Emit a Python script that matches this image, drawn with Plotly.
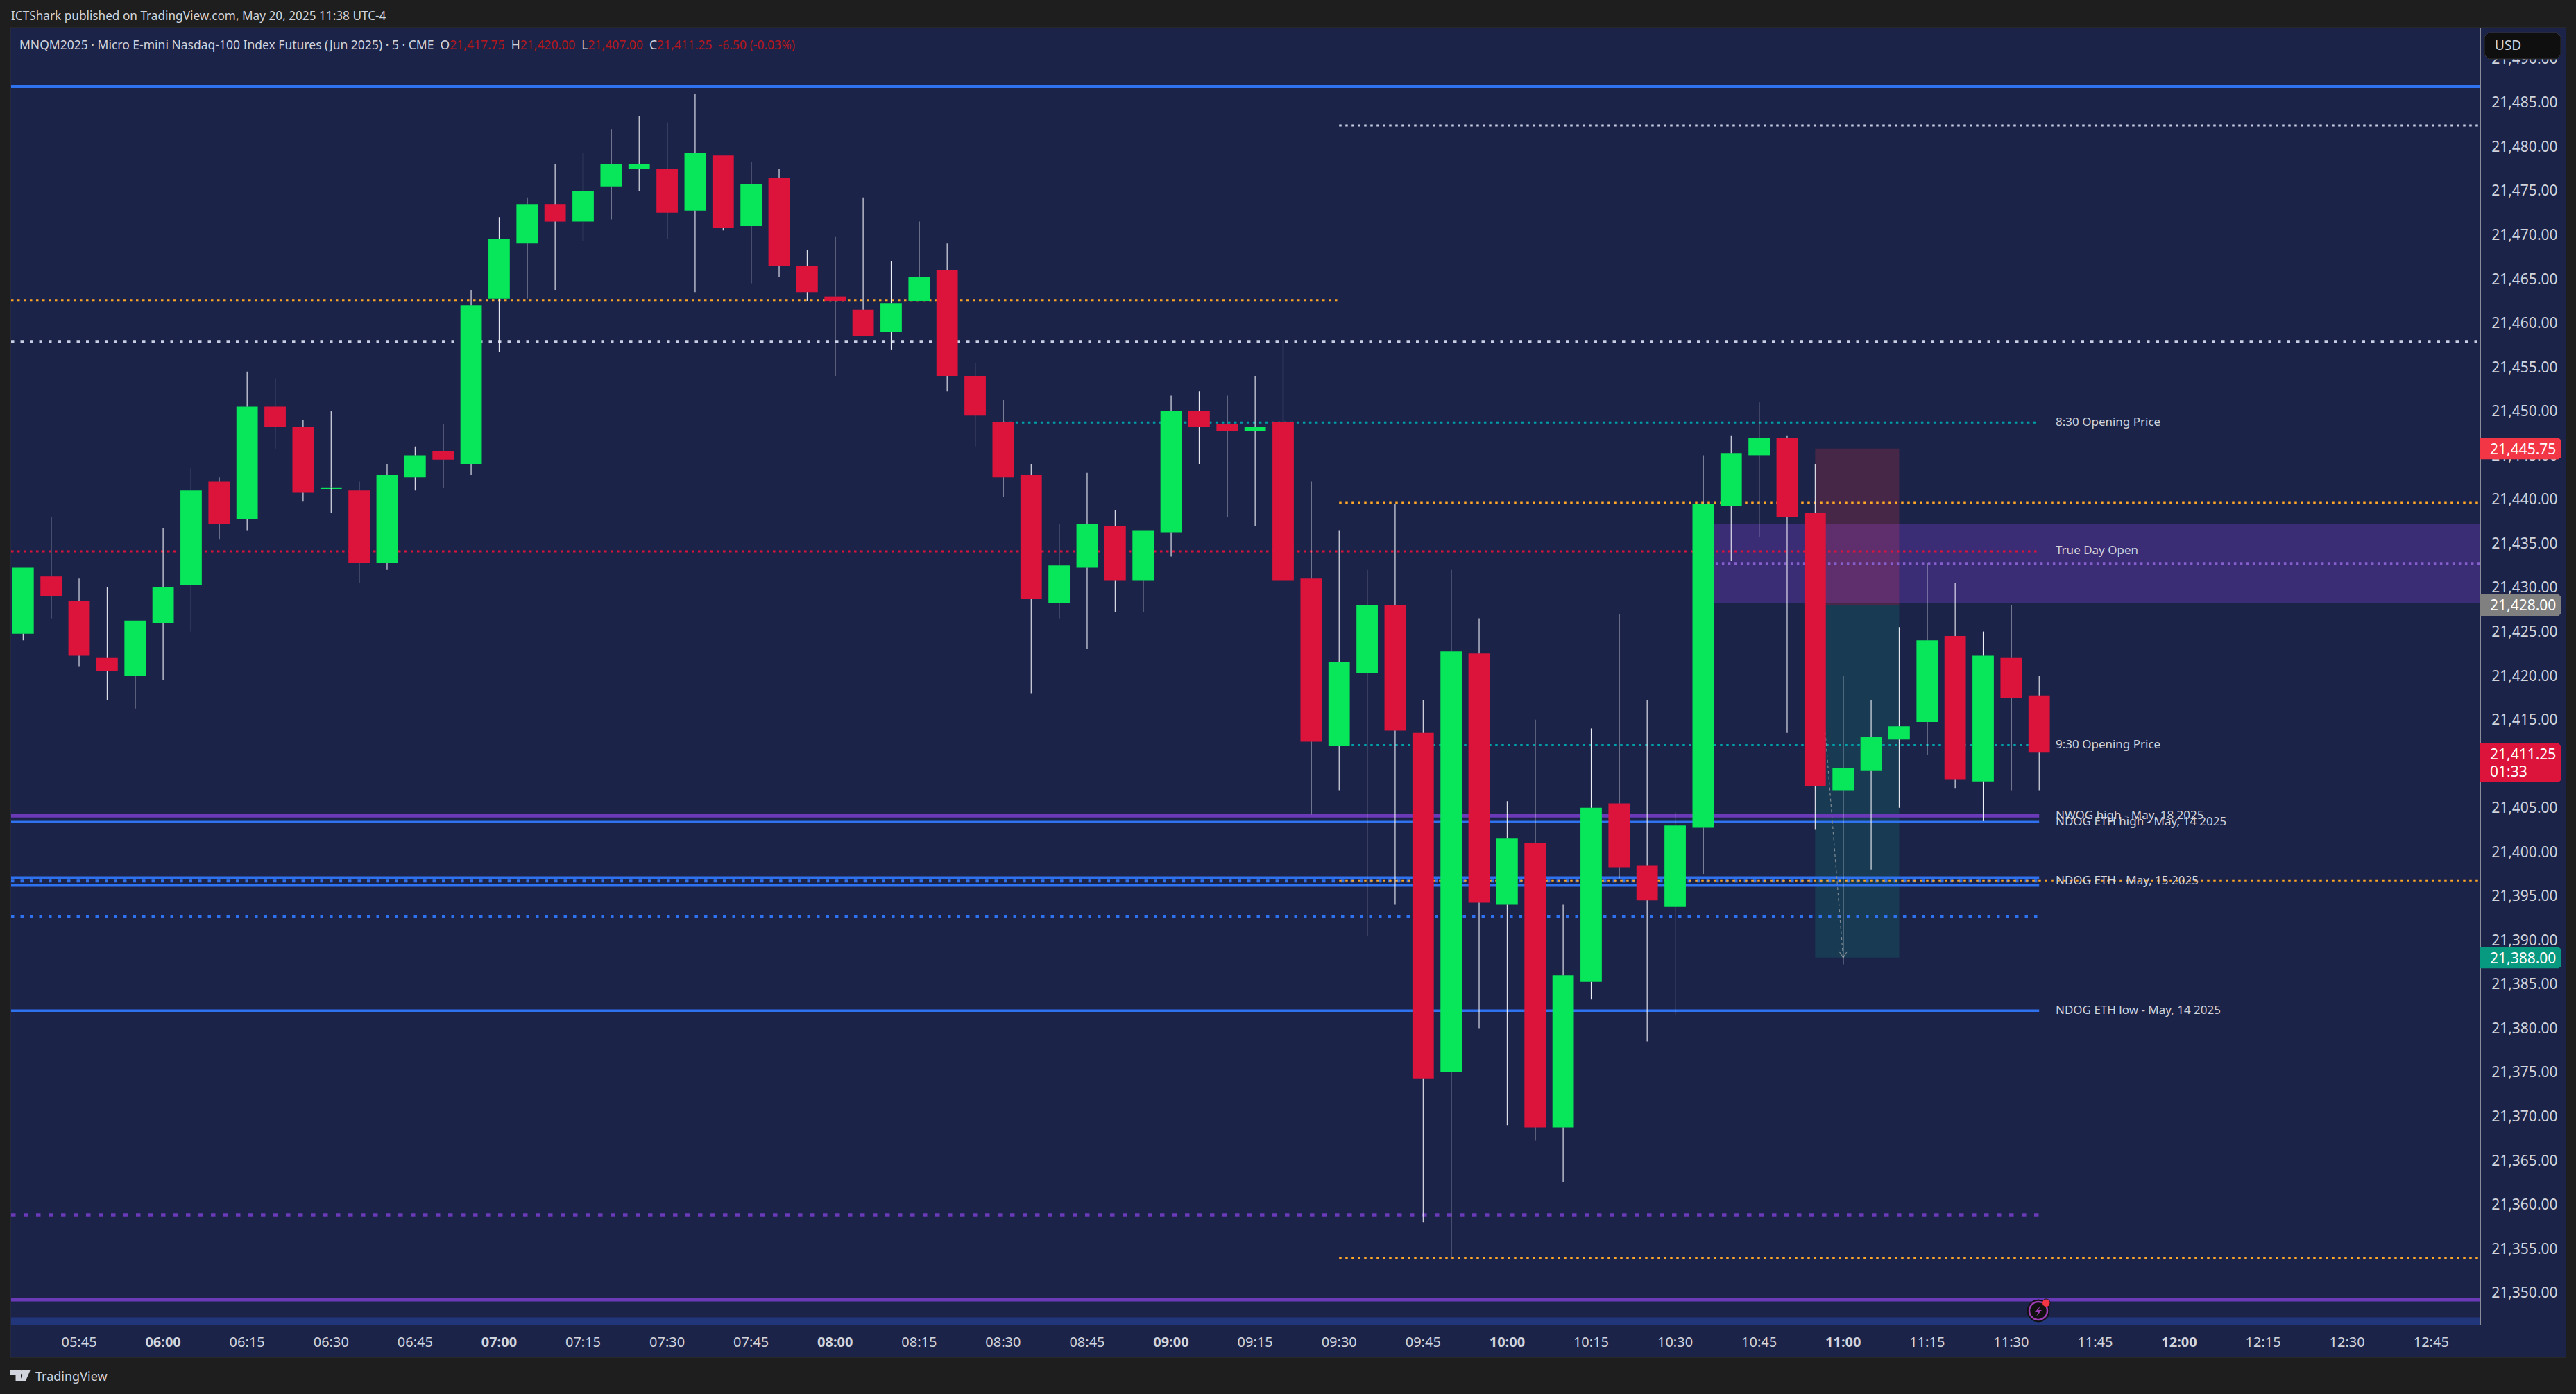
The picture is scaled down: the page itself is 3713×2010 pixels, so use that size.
import pandas as pd
import plotly.graph_objects as go

# ---------- data ----------
START = "2025-05-20 05:35"
OPEN = [21424.75,21431.25,21428.5,21422,21420,21426,21430.25,21442,21437.75,21450.5,21448.25,21441.25,21441,21432.75,21442.5,21445.5,21444,
        21462.75,21469,21473.5,21471.5,21475.5,21477.5,21477.5,21472.75,21479,21471,21476.5,21466.5,21463,21461.5,21459,21462.5,21466,21454,
        21448.75,21442.75,21428.25,21432.25,21437,21430.75,21436.25,21450,21448.5,21447.75,21448.75,21431,21412,21420.25,21428,21413.5,21375,
        21422.5,21394,21401,21368.75,21385.25,21405.5,21398.5,21393.75,21402.75,21439.25,21445,21447,21438.5,21407,21409.25,21412.75,21414.75,
        21424.5,21408,21422,21417.75]
HIGH = [21432.25,21438,21431,21430,21426.25,21436.75,21443.5,21442.5,21454.5,21453.75,21449,21450,21442,21444,21446,21448.5,21463.75,
        21472,21474.25,21478,21479.25,21482,21483.5,21482.75,21486,21479,21478.25,21477.5,21468.25,21469.75,21474.25,21467,21471.5,21469,21455.5,
        21451.25,21444,21437.25,21443,21438.75,21436.5,21451.75,21452.25,21451.75,21454,21458,21442,21436.5,21432,21439.5,21417.25,21432,
        21426.5,21405.75,21415,21394,21414,21427,21417.25,21404.5,21445,21447.25,21451,21447.25,21444,21420,21417.25,21425.5,21432.75,
        21430.5,21425,21428,21420]
LOW = [21424,21426.5,21421,21417.25,21416.25,21419.5,21425,21435.5,21436.5,21445.75,21439.75,21438.5,21430.5,21432,21441,21441.25,21442.75,
       21456.75,21462.75,21463.75,21469.25,21471.75,21475,21469.5,21463.5,21470.5,21464.5,21465.25,21462.5,21454,21458.5,21457,21462.5,21452.25,21446,
       21440.25,21418,21426.5,21423,21427.25,21427.25,21433.5,21444,21438,21437,21430.75,21404.25,21407,21390.5,21394,21358,21354,
       21380,21369,21367.25,21362.5,21383.25,21397,21378.5,21381.5,21397.5,21433,21435.75,21413.5,21402.5,21387.25,21398,21405,21411,
       21407.25,21403.5,21407,21407]
CLOSE = [21432.25,21429,21422.25,21420.5,21426.25,21430,21441,21437.25,21450.5,21448.25,21440.75,21441.35,21432.75,21442.75,21445,21444.5,21462,
         21469.5,21473.5,21471.5,21475,21478,21478,21472.5,21479.25,21470.75,21475.75,21466.5,21463.5,21462.5,21458.5,21462.25,21465.25,21454,21449.5,
         21442.5,21428.75,21432.5,21437.25,21430.75,21436.5,21450,21448.25,21447.75,21448.25,21430.75,21412.5,21421.5,21428,21413.75,21374.25,21422.75,
         21394.25,21401.5,21368.75,21386,21405,21398.25,21394.5,21403,21439.5,21445.25,21447,21438,21407.5,21409.5,21413,21414.25,21424,
         21408.25,21422.25,21417.5,21411.25]

PRICE_TICKS = [21350 + 5 * i for i in range(29)]
TIME_TICKS = ["05:45","06:00","06:15","06:30","06:45","07:00","07:15","07:30","07:45","08:00","08:15","08:30","08:45","09:00","09:15",
              "09:30","09:45","10:00","10:15","10:30","10:45","11:00","11:15","11:30","11:45","12:00","12:15","12:30","12:45"]

TOP_BLUE = 21486.8
WHITE_HIGH = 21482.4
ORANGE_HIGH = 21462.6
WHITE_MID = 21457.9
OPEN_830 = 21448.7
ORANGE_MID = 21439.6
TRUE_DAY_OPEN = 21434.1
PURPLE_DOT = 21432.7
OPEN_930 = 21412.1
NWOG_HIGH = 21404.1
NDOG_ETH_HIGH = 21403.4
NDOG_A = 21397.1
NDOG_MID = 21396.7
NDOG_B = 21396.2
BLUE_DOT = 21392.7
NDOG_ETH_LOW = 21382.0
PURPLE_LOW_DOT = 21358.8
ORANGE_LOW = 21353.9
NWOG_LOW = 21349.2
BAND = (21347.2, 21346.3)
ZONE = (21437.2, 21428.2)
STOP, ENTRY, TARGET = 21445.75, 21428.0, 21388.0

# ---------- layout constants (pixels) ----------
W, H = 3713, 2010
L, R, T, B = 16, 3575, 41, 1910
PANEL_R, PANEL_B = 3698, 1957
BG, PAPER = "#1c2348", "#1e1e1e"
TXT = "#d1d4dc"
GREEN, RED = "#08e65a", "#dc143c"
BLUE, PURPLE, ORANGE, TEAL, WHITE = "#2e72f0", "#6a3ab8", "#ffa726", "#00a0a8", "#c8cee4"
FONT = "Noto Sans"

# price scale: 21455 sits at y=529.3, 12.71 px a point; one bar is 40.36 px, first at x=33.3
PPP, BARPX, X0 = 12.71, 40.36, 33.3
y_top = 21455 + (529.3 - T) / PPP
y_bot = 21455 - (B - 529.3) / PPP
t0 = pd.Timestamp(START)
def tidx(i):
    return t0 + pd.Timedelta(seconds=300 * i)
x_left = tidx((L - X0) / BARPX)
x_right = tidx((R - X0) / BARPX)
times = [tidx(i) for i in range(len(OPEN))]
px = lambda x: (x - L) / (R - L)
py = lambda y: (B - y) / (B - T)
ypx = lambda p: 529.3 + (21455 - p) * PPP

fig = go.Figure()

# bodies
up = [c >= o for o, c in zip(OPEN, CLOSE)]
fig.add_trace(go.Bar(x=times, y=[abs(c - o) for o, c in zip(OPEN, CLOSE)], base=[min(o, c) for o, c in zip(OPEN, CLOSE)],
                     width=229000, marker=dict(color=[GREEN if u else RED for u in up], line=dict(width=0)), hoverinfo="skip"))
# wicks: above and below the body, so the body stays clean
wx, wy = [], []
for t, o, h, l, c in zip(times, OPEN, HIGH, LOW, CLOSE):
    if h > max(o, c):
        wx += [t, t, None]; wy += [max(o, c), h, None]
    if l < min(o, c):
        wx += [t, t, None]; wy += [min(o, c), l, None]
fig.add_trace(go.Scatter(x=wx, y=wy, mode="lines", line=dict(color="#eceef5", width=1.1), hoverinfo="skip"))

shapes = []
def level(p, a, b, color, width, dash="solid"):
    shapes.append(dict(type="line", xref="x", yref="y", x0=a, x1=b, y0=p, y1=p, layer="below", line=dict(color=color, width=width, dash=dash)))
def zone(a, b, p0, p1, color):
    shapes.append(dict(type="rect", xref="x", yref="y", x0=a, x1=b, y0=p0, y1=p1, layer="below", fillcolor=color, line=dict(width=0)))
def chrome(x0, y0, x1, y1, color, line="rgba(0,0,0,0)", layer="below", kind="rect"):
    shapes.append(dict(type=kind, xref="paper", yref="paper", x0=px(x0), x1=px(x1), y0=py(y0), y1=py(y1), layer=layer, fillcolor=color, line=dict(color=line, width=1)))
def path(d, color, layer="above", line=None, lw=1):
    out = []
    for tok in d.split():
        if tok[0] in "MLZ":
            out.append(tok)
        else:
            x, y = tok.split(",")
            out.append(f"{px(float(x)):.6f},{py(float(y)):.6f}")
    s = " ".join(out).replace("M ", "M").replace("L ", "L")
    shapes.append(dict(type="path", xref="paper", yref="paper", path=s, layer=layer, fillcolor=color, line=dict(color=line or "rgba(0,0,0,0)", width=lw)))
def tag(y0, y1, color):
    r = 3
    path(f"M {R},{y0} L {3691-r},{y0} L 3691,{y0+r} L 3691,{y1-r} L {3691-r},{y1} L {R},{y1} Z", color)

# frame panels around the plotting pane
chrome(L - 1, T - 1, PANEL_R, PANEL_B, BG, line="#333333")
chrome(L, B, PANEL_R, PANEL_B, BG)
chrome(R, T, PANEL_R, PANEL_B, BG)

I_LAST = 72
end_line = tidx(I_LAST)
i47, i35, i60 = tidx(47), tidx(35), tidx(60)
# zones
zone(i60, x_right, ZONE[0], ZONE[1], "rgba(103,58,183,0.42)")
zone(tidx(64), tidx(67), STOP, ENTRY, "rgba(242,54,69,0.2)")
zone(tidx(64), tidx(67), ENTRY, TARGET, "rgba(8,153,129,0.2)")
zone(x_left, x_right, BAND[0], BAND[1], "#22367c")
level(ENTRY, tidx(64), tidx(67), "#8a8f80", 1)

# horizontal levels
dot_thin = "3.5px,5.5px"
dot_mid = "4.5px,9px"
dot_big = "6.5px,11.5px"
level(TOP_BLUE, x_left, x_right, BLUE, 4)
level(WHITE_HIGH, tidx(47), x_right, WHITE, 3, dot_thin)
level(ORANGE_HIGH, x_left, i47, ORANGE, 3, dot_thin)
level(WHITE_MID, x_left, x_right, WHITE, 4.5, dot_mid)
level(OPEN_830, i35, end_line, TEAL, 3, dot_thin)
level(ORANGE_MID, i47, x_right, ORANGE, 3, dot_thin)
level(TRUE_DAY_OPEN, x_left, end_line, RED, 3, dot_thin)
level(PURPLE_DOT, i60, x_right, "#8560cc", 3, dot_thin)
level(OPEN_930, i47, end_line, TEAL, 3, dot_thin)
level(NWOG_HIGH, x_left, end_line, PURPLE, 5)
level(NDOG_ETH_HIGH, x_left, end_line, BLUE, 3.5)
level(NDOG_A, x_left, end_line, BLUE, 3.5)
level(NDOG_B, x_left, end_line, BLUE, 3.5)
level(NDOG_MID, x_left, end_line, BLUE, 4, dot_mid)
level(NDOG_MID, i47, x_right, ORANGE, 3, dot_thin)
level(BLUE_DOT, x_left, end_line, BLUE, 4, dot_mid)
level(NDOG_ETH_LOW, x_left, end_line, BLUE, 3.5)
level(PURPLE_LOW_DOT, x_left, end_line, PURPLE, 5.5, dot_big)
level(ORANGE_LOW, i47, x_right, ORANGE, 3, dot_thin)
level(NWOG_LOW, x_left, x_right, PURPLE, 5)

# dashed projection inside the position tool, with its small arrow head
PROJ = dict(color="#7f8a93", width=1.2, dash="4px,4px")
shapes.append(dict(type="line", xref="x", yref="y", x0=tidx(64), x1=tidx(65), y0=ENTRY, y1=TARGET, layer="below", line=PROJ))
for side in (-0.14, 0.14):
    shapes.append(dict(type="line", xref="x", yref="y", x0=tidx(65 + side), x1=tidx(65), y0=TARGET + 0.7, y1=TARGET, layer="below",
                       line=dict(color="#7f8a93", width=1.2)))

def note(x, y, text, size=17, color=TXT, xanchor="left", xref="paper", yref="paper", yshift=0):
    fig.add_annotation(x=x, y=y, xref=xref, yref=yref, text=text, showarrow=False, xanchor=xanchor, yanchor="middle", yshift=yshift,
                       align="left", font=dict(family=FONT, size=size, color=color), bgcolor="rgba(0,0,0,0)", borderpad=0)

LBL_X = px(2962)
for p, t in [(OPEN_830, "8:30 Opening Price"), (TRUE_DAY_OPEN, "True Day Open"), (OPEN_930, "9:30 Opening Price"),
             (NWOG_HIGH, "NWOG high - May, 18 2025"), (NDOG_ETH_HIGH, "NDOG ETH high - May, 14 2025"),
             (NDOG_MID, "NDOG ETH - May, 15 2025"), (NDOG_ETH_LOW, "NDOG ETH low - May, 14 2025")]:
    note(LBL_X, p, t, size=17, yref="y", yshift=2)

# header and legend
note(px(15), py(22), "ICTShark published on TradingView.com, May 20, 2025 11:38 UTC-4", size=17.2)
V = "#b3171d"
legend = ("MNQM2025 · Micro E-mini Nasdaq-100 Index Futures (Jun 2025) · 5 · CME  "
          f"O<span style='color:{V}'>21,417.75</span>  H<span style='color:{V}'>21,420.00</span>  "
          f"L<span style='color:{V}'>21,407.00</span>  C<span style='color:{V}'>21,411.25</span>  "
          f"<span style='color:{V}'>-6.50 (-0.03%)</span>")
note(px(27), py(64), legend, size=17.5)
note(px(50), py(1984), "TradingView", size=18)

# USD box
r = 6
path(f"M {3581+r},47 L {3691-r},47 L 3691,{47+r} L 3691,{85-r} L {3691-r},85 L {3581+r},85 L 3581,{85-r} L 3581,{47+r} Z", "#0f0f0f", line="#333333")
note(px(3595), py(65), "USD", size=19)

# price tags
for p, col, t in [(STOP, "#f23645", "21,445.75"), (ENTRY, "#808080", "21,428.00"), (TARGET, "#089981", "21,388.00")]:
    yc = ypx(p)
    tag(yc - 15.5, yc + 15.5, col)
    note(px(3588), py(yc), t, size=21, color="#ffffff")
tag(1072, 1128, RED)
note(px(3588), py(1087), "21,411.25", size=21, color="#ffffff")
note(px(3588), py(1112), "01:33", size=21, color="#ffffff")

# lightning badge
chrome(2922, 1874, 2954, 1906, "#111111", line="#111111", layer="above", kind="circle")
chrome(2925, 1877, 2951, 1903, "#111111", line="#9c3db5", layer="above", kind="circle")
shapes[-1]["line"]["width"] = 2.5
chrome(2943.5, 1873, 2955, 1884.5, "#f23645", line="#111111", layer="above", kind="circle")
path("M 2941,1883 L 2933,1892 L 2938,1892 L 2935,1898 L 2943,1889 L 2938,1889 Z", "#9c3db5")

# TradingView logo
path("M 15,1975 L 30,1975 L 30,1991 L 22.5,1991 L 22.5,1983 L 15,1983 Z", TXT)
path("M 36,1975 L 44,1975 L 37,1991 L 28.5,1991 Z", TXT)
chrome(29.5, 1975, 36.5, 1982, TXT, layer="above", kind="circle")

fig.update_layout(
    width=W, height=H, autosize=False, showlegend=False, barmode="overlay",
    margin=dict(l=L, r=W - R, t=T, b=H - B, pad=0),
    paper_bgcolor=PAPER, plot_bgcolor=BG, shapes=shapes,
    font=dict(family=FONT, color=TXT),
    xaxis=dict(type="date", range=[x_left, x_right], showgrid=False, zeroline=False, showline=True, linecolor="#8a8d99", linewidth=1,
               tickmode="array", tickvals=[pd.Timestamp("2025-05-20 " + t) for t in TIME_TICKS],
               ticktext=[f"<b>{t}</b>" if t.endswith(":00") else t for t in TIME_TICKS],
               tickfont=dict(family=FONT, size=20, color=TXT), ticks="", ticklabelstandoff=7, fixedrange=True),
    yaxis=dict(side="right", range=[y_bot, y_top], showgrid=False, zeroline=False, showline=True, linecolor="#8a8d99", linewidth=1,
               mirror=False, tickmode="array", tickvals=PRICE_TICKS, ticktext=[f"{v:,.2f}" for v in PRICE_TICKS],
               tickfont=dict(family=FONT, size=21, color=TXT), ticks="", ticklabelstandoff=11, fixedrange=True),
)
fig.write_html("out.html", post_script="document.body.style.margin='0';document.body.style.overflow='hidden';", config={"displayModeBar": False})
